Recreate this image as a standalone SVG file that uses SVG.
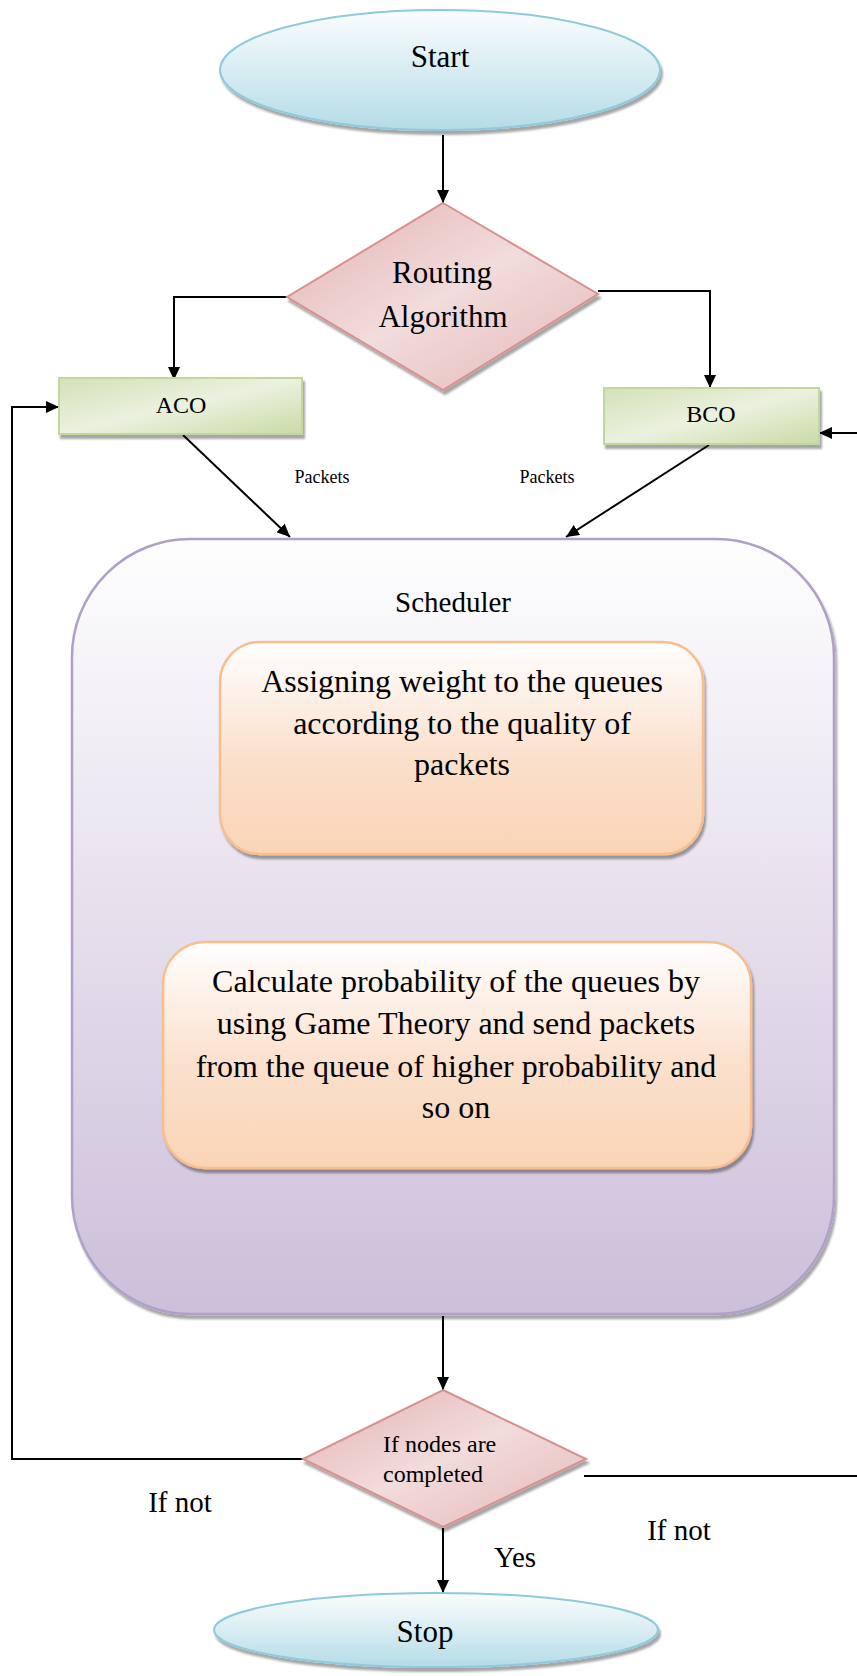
<svg xmlns="http://www.w3.org/2000/svg" width="857" height="1676" viewBox="0 0 857 1676">
  <defs>
    <linearGradient id="gEllipse" x1="0" y1="0" x2="0" y2="1">
      <stop offset="0" stop-color="#fbfdfe"/>
      <stop offset="1" stop-color="#b5dce7"/>
    </linearGradient>
    <linearGradient id="gDiamond" x1="0" y1="0" x2="1" y2="1">
      <stop offset="0" stop-color="#e3b1b0"/>
      <stop offset="0.5" stop-color="#f2dcdc"/>
      <stop offset="1" stop-color="#e4b6b5"/>
    </linearGradient>
    <linearGradient id="gGreen" x1="0" y1="0" x2="1" y2="1">
      <stop offset="0" stop-color="#d3e1b7"/>
      <stop offset="0.5" stop-color="#ebf1df"/>
      <stop offset="1" stop-color="#c9dba6"/>
    </linearGradient>
    <linearGradient id="gOrange" x1="0" y1="0" x2="0" y2="1">
      <stop offset="0" stop-color="#fffefe"/>
      <stop offset="0.55" stop-color="#fbe0cc"/>
      <stop offset="1" stop-color="#fad4b6"/>
    </linearGradient>
    <linearGradient id="gSched" x1="0" y1="0" x2="0" y2="1">
      <stop offset="0" stop-color="#fefefe"/>
      <stop offset="1" stop-color="#ccbfda"/>
    </linearGradient>
    <filter id="shadow" x="-10%" y="-10%" width="125%" height="125%">
      <feGaussianBlur in="SourceAlpha" stdDeviation="0.8"/>
      <feOffset dx="2" dy="4" result="off"/>
      <feFlood flood-color="#000" flood-opacity="0.35"/>
      <feComposite in2="off" operator="in"/>
      <feMerge>
        <feMergeNode/>
        <feMergeNode in="SourceGraphic"/>
      </feMerge>
    </filter>
    <marker id="arrow" markerUnits="userSpaceOnUse" markerWidth="13" markerHeight="12" refX="13" refY="6" orient="auto">
      <path d="M0,0 L13,6 L0,12 z" fill="#000"/>
    </marker>
  </defs>
  <style>
    text { font-family: "Liberation Serif", "Times New Roman", serif; fill: #000; }
    .mid { text-anchor: middle; }
    .terminal { fill: url(#gEllipse); stroke: #8dcbdc; stroke-width: 2; filter: url(#shadow); }
    .decision { fill: url(#gDiamond); stroke: #d8908e; stroke-width: 2; filter: url(#shadow); }
    .algo { fill: url(#gGreen); stroke: #c3d69b; stroke-width: 2; filter: url(#shadow); }
    .task { fill: url(#gOrange); stroke: #f9be8c; stroke-width: 2.5; filter: url(#shadow); }
    .sched { fill: url(#gSched); stroke: #b09fc8; stroke-width: 2.5; filter: url(#shadow); }
    .conn { fill: none; stroke: #000; stroke-width: 2; }
    .arr { marker-end: url(#arrow); }
  </style>

  <!-- connectors -->
  <g id="connectors">
    <line class="conn arr" x1="443" y1="135" x2="443" y2="203"/>
    <polyline class="conn arr" points="287,297 174,297 174,380"/>
    <polyline class="conn arr" points="598,291 710,291 710,388"/>
    <line class="conn arr" x1="183" y1="435" x2="290" y2="537"/>
    <line class="conn arr" x1="709" y1="445" x2="566" y2="537"/>
    <line class="conn arr" x1="449" y1="862" x2="456" y2="940"/>
    <line class="conn arr" x1="443" y1="1316" x2="443" y2="1390"/>
    <line class="conn arr" x1="443" y1="1528" x2="443" y2="1593"/>
    <polyline class="conn arr" points="303,1459 12,1459 12,407 59,407"/>
    <line class="conn" x1="584" y1="1476" x2="857" y2="1476"/>
    <line class="conn arr" x1="857" y1="433" x2="819" y2="433"/>
    <text x="322" y="483" class="mid" font-size="18">Packets</text>
    <text x="547" y="483" class="mid" font-size="18">Packets</text>
    <text x="180" y="1512" class="mid" font-size="29">If not</text>
    <text x="679" y="1540" class="mid" font-size="29">If not</text>
    <text x="515" y="1567" class="mid" font-size="29">Yes</text>
  </g>

  <g id="start">
    <ellipse class="terminal" cx="440" cy="70" rx="220" ry="60"/>
    <text x="440" y="67" class="mid" font-size="31">Start</text>
  </g>

  <g id="routing">
    <polygon class="decision" points="443,203 598,294 443,390 287,297"/>
    <text x="442" y="283" class="mid" font-size="31">Routing</text>
    <text x="443" y="327" class="mid" font-size="31">Algorithm</text>
  </g>

  <g id="aco">
    <rect class="algo" x="59" y="378" width="243" height="56"/>
    <text x="181" y="413" class="mid" font-size="24">ACO</text>
  </g>

  <g id="bco">
    <rect class="algo" x="604" y="388" width="215" height="56"/>
    <text x="711" y="422" class="mid" font-size="24">BCO</text>
  </g>

  <g id="scheduler">
    <rect class="sched" x="72" y="539" width="762" height="775" rx="118" ry="118"/>
    <text x="453" y="612" class="mid" font-size="29">Scheduler</text>
  </g>

  <g id="assign-weight">
    <rect class="task" x="220" y="642" width="483" height="212" rx="40" ry="40"/>
    <text x="462" y="692" class="mid" font-size="32">Assigning weight to the queues</text>
    <text x="462" y="734" class="mid" font-size="32">according to the quality of</text>
    <text x="462" y="775" class="mid" font-size="32">packets</text>
  </g>

  <g id="game-theory">
    <rect class="task" x="163" y="942" width="588" height="226" rx="42" ry="42"/>
    <text x="456" y="992" class="mid" font-size="32">Calculate probability of the queues by</text>
    <text x="456" y="1034" class="mid" font-size="32">using Game Theory and send packets</text>
    <text x="456" y="1077" class="mid" font-size="32">from the queue of higher probability and</text>
    <text x="456" y="1118" class="mid" font-size="32">so on</text>
  </g>

  <g id="nodes-completed">
    <polygon class="decision" points="443,1390 586,1459 443,1527 303,1459"/>
    <text x="383" y="1452" font-size="24">If nodes are</text>
    <text x="383" y="1482" font-size="24">completed</text>
  </g>

  <g id="stop">
    <ellipse class="terminal" cx="436" cy="1630" rx="222" ry="37"/>
    <text x="425" y="1642" class="mid" font-size="31">Stop</text>
  </g>
</svg>
